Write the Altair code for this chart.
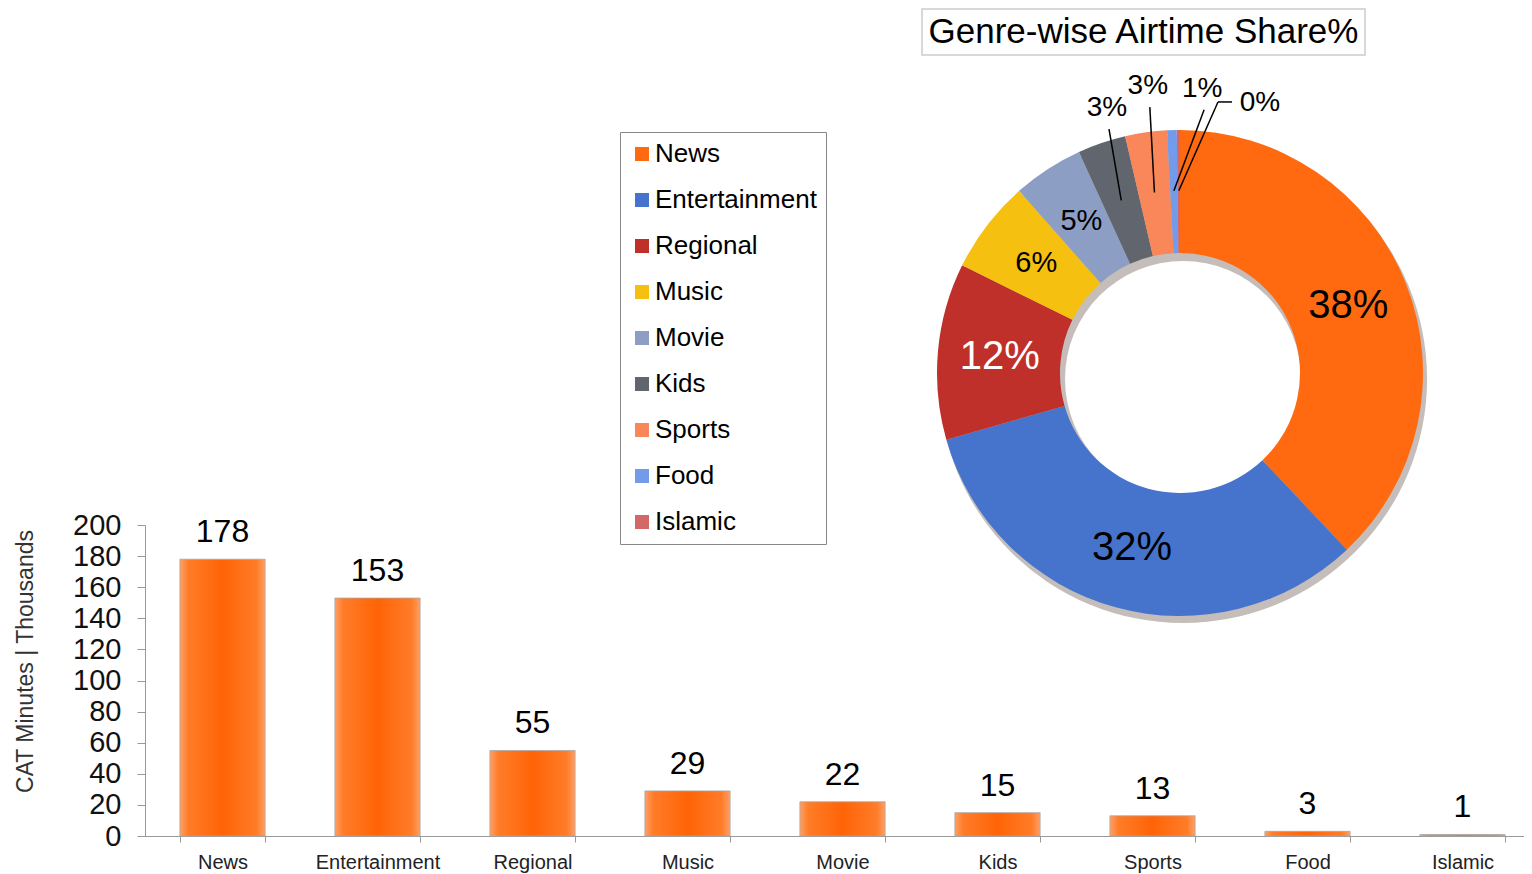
import math
import altair as alt
import pandas as pd

# ---------------- data ----------------
genres = ["News", "Entertainment", "Regional", "Music", "Movie", "Kids", "Sports", "Food", "Islamic"]
minutes_k = [178, 153, 55, 29, 22, 15, 13, 3, 1]
share_labels = ["38%", "32%", "12%", "6%", "5%", "3%", "3%", "1%", "0%"]
colors = ["#FF6A10", "#4674CC", "#C0302A", "#F5C010", "#8D9EC5", "#60656E", "#F9875A", "#729BEA", "#D26868"]
y_ticks = [0, 20, 40, 60, 80, 100, 120, 140, 160, 180, 200]
chart_title = "Genre-wise Airtime Share%"
y_title = "CAT Minutes  |  Thousands"

FONT = "Liberation Sans"

# ---------------- layout constants ----------------
W, H = 1379, 828
PIE_CX, PIE_CY, PIE_R, PIE_IR = 1035, 365, 243, 120
INNER_LABEL_R = 0.745
LEADER_END_R = 0.75
# outer label placement: (angle in degrees clockwise from top, radius in outer-radius units)
OUTER_LABEL = {"Kids": (344.6, 1.131), "Sports": (353.6, 1.188), "Food": (4.45, 1.173), "Islamic": (16.5, 1.159)}
BIG = {"News", "Entertainment", "Regional"}

df = pd.DataFrame({"genre": genres, "value": minutes_k, "label": share_labels,
                   "order": list(range(len(genres)))})
total = float(sum(minutes_k))
cum = df["value"].cumsum()
df["mid"] = (cum - df["value"] / 2) / total * 2 * math.pi

# inner labels
inner = df[~df["genre"].isin(OUTER_LABEL.keys())].copy()
inner["px"] = INNER_LABEL_R * inner["mid"].apply(math.sin)
inner["py"] = INNER_LABEL_R * inner["mid"].apply(math.cos)
inner["fs"] = inner["genre"].apply(lambda g: 40 if g in BIG else 29)

# outer labels + leader lines
outer_rows, lead_rows = [], []
for _, r in df[df["genre"].isin(OUTER_LABEL.keys())].iterrows():
    ang, rad = OUTER_LABEL[r["genre"]]
    a = math.radians(ang)
    lx, ly = rad * math.sin(a), rad * math.cos(a)
    outer_rows.append({"genre": r["genre"], "label": r["label"], "px": lx, "py": ly})
    ex, ey = LEADER_END_R * math.sin(r["mid"]), LEADER_END_R * math.cos(r["mid"])
    if r["genre"] == "Islamic":
        sx, sy = lx - 28 / PIE_R, ly + 1 / PIE_R
        kx = sx - 14 / PIE_R
        lead_rows.append({"x": sx, "y": sy, "x2": kx, "y2": sy})
        lead_rows.append({"x": kx, "y": sy, "x2": ex, "y2": ey})
    else:
        sx, sy = lx + 2 / PIE_R, ly - 21 / PIE_R
        lead_rows.append({"x": sx, "y": sy, "x2": ex, "y2": ey})
outer = pd.DataFrame(outer_rows)
leads = pd.DataFrame(lead_rows)

# ---------------- bar chart ----------------
x_enc_scale = alt.Scale(domain=genres, range=[0, 1395], paddingInner=0.45, paddingOuter=0.225)
y_enc_scale = alt.Scale(domain=[0, 200], range=[H, 517], nice=False, zero=True)

bar_grad = alt.Gradient(
    gradient="linear", x1=0, x2=1, y1=0, y2=0,
    stops=[alt.GradientStop(color="#FFA066", offset=0),
           alt.GradientStop(color="#FF7C28", offset=0.1),
           alt.GradientStop(color="#FF6406", offset=0.5),
           alt.GradientStop(color="#FF7C28", offset=0.9),
           alt.GradientStop(color="#FFA066", offset=1)])

bars = alt.Chart(df).mark_bar(color=bar_grad, stroke="#a8a8a8", strokeWidth=0.8).encode(
    x=alt.X("genre:N", sort=genres, scale=x_enc_scale,
            axis=alt.Axis(title=None, labelAngle=0, labelFont=FONT, labelFontSize=20,
                          labelColor="#222222", tickBand="extent", tickSize=6,
                          tickColor="#999999", domainColor="#999999", labelPadding=10)),
    y=alt.Y("value:Q", scale=y_enc_scale,
            axis=alt.Axis(values=y_ticks, title=y_title, grid=False, labelFont=FONT,
                          labelFontSize=29, labelColor="#111111", tickSize=8,
                          tickColor="#999999", domainColor="#999999", labelPadding=16,
                          titleFont=FONT, titleFontSize=23, titleFontWeight="normal",
                          titleColor="#333333", titleAngle=-90, titleX=-120, titleY=653,
                          titleAlign="center", titleBaseline="middle")),
)

bar_text = alt.Chart(df).mark_text(baseline="alphabetic", dy=-17, fontSize=32, font=FONT,
                                   color="black").encode(
    x=alt.X("genre:N", sort=genres, scale=x_enc_scale, axis=None),
    y=alt.Y("value:Q", scale=y_enc_scale, axis=None),
    text=alt.Text("value:Q"),
)

# ---------------- donut ----------------
px_scale = alt.Scale(domain=[-1, 1], range=[PIE_CX - PIE_R, PIE_CX + PIE_R], nice=False, zero=False)
py_scale = alt.Scale(domain=[-1, 1], range=[PIE_CY + PIE_R, PIE_CY - PIE_R], nice=False, zero=False)

shadow = alt.Chart(pd.DataFrame({"s": [1]})).mark_arc(
    innerRadius=PIE_IR - 2, outerRadius=PIE_R + 1, color="#6b5a50", opacity=0.4).encode(
    theta=alt.value(0), theta2=alt.value(2 * math.pi),
    x=alt.value(PIE_CX + 3), y=alt.value(PIE_CY + 6))

arcs = alt.Chart(df).mark_arc(innerRadius=PIE_IR, outerRadius=PIE_R).encode(
    theta=alt.Theta("value:Q", stack=True),
    order=alt.Order("order:Q"),
    color=alt.Color("genre:N", sort=genres,
                    scale=alt.Scale(domain=genres, range=colors),
                    legend=alt.Legend(orient="none", legendX=475, legendY=124, title=None,
                                      symbolType="square", symbolSize=196, symbolStrokeWidth=0,
                                      labelFont=FONT, labelFontSize=26, labelColor="black",
                                      labelLimit=400, rowPadding=20, padding=9,
                                      strokeColor="#888888", fillColor="white", labelOffset=0)),
    x=alt.value(PIE_CX), y=alt.value(PIE_CY),
)

inner_text = alt.Chart(inner).mark_text(font=FONT, align="center", baseline="middle").encode(
    x=alt.X("px:Q", scale=px_scale, axis=None),
    y=alt.Y("py:Q", scale=py_scale, axis=None),
    text="label:N",
    size=alt.Size("fs:Q", scale=None, legend=None),
    color=alt.condition(alt.datum.genre == "Regional", alt.value("white"), alt.value("black")),
)

outer_text = alt.Chart(outer).mark_text(font=FONT, fontSize=28, align="center",
                                        baseline="middle", color="black").encode(
    x=alt.X("px:Q", scale=px_scale, axis=None),
    y=alt.Y("py:Q", scale=py_scale, axis=None),
    text="label:N",
)

leader = alt.Chart(leads).mark_rule(color="black", strokeWidth=1.5).encode(
    x=alt.X("x:Q", scale=px_scale, axis=None),
    y=alt.Y("y:Q", scale=py_scale, axis=None),
    x2="x2:Q", y2="y2:Q",
)

# ---------------- title box ----------------
tdf = pd.DataFrame({"t": [chart_title]})
title_box = alt.Chart(tdf).mark_rect(fill="white", stroke="#cccccc", strokeWidth=1.5).encode(
    x=alt.value(777), x2=alt.value(1220), y=alt.value(1), y2=alt.value(47))
title_text = alt.Chart(tdf).mark_text(font=FONT, fontSize=35, color="black",
                                      align="center", baseline="middle").encode(
    text="t:N", x=alt.value(998.5), y=alt.value(24))

chart = alt.layer(
    bars, bar_text, shadow, arcs, inner_text, leader, outer_text, title_box, title_text
).resolve_scale(
    x="independent", y="independent"
).properties(
    width=W, height=H,
    autosize=alt.AutoSizeParams(type="none"),
    padding={"left": 137, "top": 0, "right": 0, "bottom": 38},
).configure_view(stroke=None)

chart.save("out.html", embed_options={"renderer": "svg", "actions": False})
